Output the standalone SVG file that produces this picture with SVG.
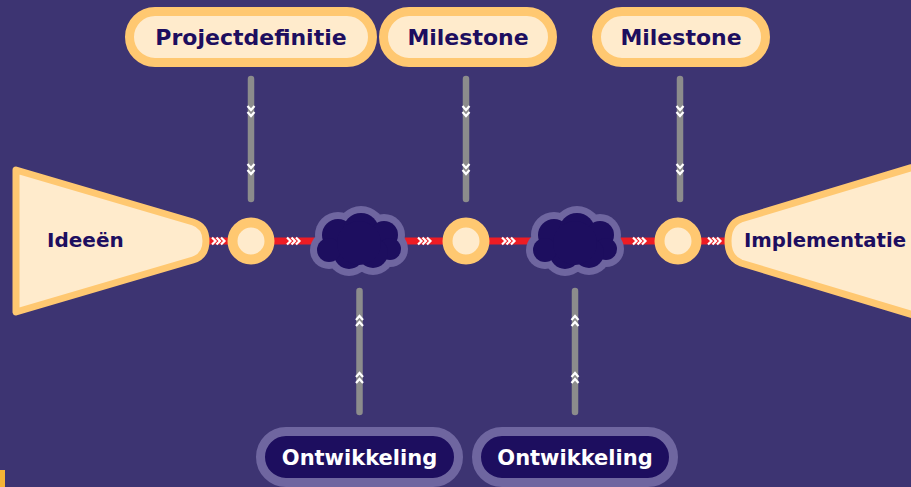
<svg xmlns="http://www.w3.org/2000/svg" width="911" height="487" viewBox="0 0 911 487">
<defs>
<style>
.bg{fill:#3d3472}
.warm{fill:#ffebcc;stroke:#ffc871;stroke-linejoin:round}
.pill{fill:#ffebcc;stroke:#ffc871;stroke-width:9}
.dpill{fill:#1d0e5f;stroke:#6f66a0;stroke-width:9}
.tdark{font-family:"DejaVu Sans",Verdana,sans-serif;font-weight:bold;fill:#1d0e5f}
.tlight{font-family:"DejaVu Sans",Verdana,sans-serif;font-weight:bold;fill:#ffffff}
.gray{stroke:#8c8c8c;stroke-width:6.5;stroke-linecap:round;fill:none}
.chev{stroke:#ffffff;stroke-width:2.2;fill:none}
.red{stroke:#ed1c24;stroke-width:7;fill:none}
.cout{fill:#6f66a0}
.cin{fill:#1d0e5f}
.mile{fill:#ffebcc;stroke:#ffc871;stroke-width:10}
</style>
<path id="c3" class="chev" d="M0,-3.5 L3.5,0 L0,3.5 M4.5,-3.5 L8,0 L4.5,3.5 M9,-3.5 L12.5,0 L9,3.5"/>
<path id="cd" class="chev" d="M-3.5,0 L0,4 L3.5,0 M-3.5,6 L0,10 L3.5,6"/>
<path id="cu" class="chev" d="M-3.5,4 L0,0 L3.5,4 M-3.5,10 L0,6 L3.5,10"/>
<g id="cloud">
<g class="cout">
<circle cx="-21" cy="-6" r="23"/><circle cx="2" cy="-10" r="25"/><circle cx="25" cy="-6" r="21"/>
<circle cx="31" cy="8" r="18"/><circle cx="14" cy="12" r="22"/><circle cx="-10" cy="13" r="22"/>
<circle cx="-30" cy="9" r="19"/><circle cx="0" cy="2" r="29"/>
</g>
<g class="cin">
<circle cx="-21" cy="-6" r="16"/><circle cx="2" cy="-10" r="18"/><circle cx="25" cy="-6" r="14"/>
<circle cx="31" cy="8" r="11"/><circle cx="14" cy="12" r="15"/><circle cx="-10" cy="13" r="15"/>
<circle cx="-30" cy="9" r="12"/><circle cx="0" cy="2" r="22"/>
</g>
</g>
</defs>
<rect class="bg" x="0" y="0" width="911" height="487"/>
<rect x="0" y="470" width="5" height="17" fill="#f5b335"/>

<g id="connectors">
<line class="red" x1="205" y1="241" x2="730" y2="241"/>
<use href="#c3" x="212" y="241"/>
<use href="#c3" x="287" y="241"/>
<use href="#c3" x="418" y="241"/>
<use href="#c3" x="502" y="241"/>
<use href="#c3" x="633" y="241"/>
<use href="#c3" x="708" y="241"/>
<line class="gray" x1="251" y1="79" x2="251" y2="199"/>
<line class="gray" x1="466" y1="79" x2="466" y2="199"/>
<line class="gray" x1="680" y1="79" x2="680" y2="199"/>
<use href="#cd" x="251" y="106"/><use href="#cd" x="251" y="164"/>
<use href="#cd" x="466" y="106"/><use href="#cd" x="466" y="164"/>
<use href="#cd" x="680" y="106"/><use href="#cd" x="680" y="164"/>
<line class="gray" x1="359.5" y1="291" x2="359.5" y2="412"/>
<line class="gray" x1="575" y1="291" x2="575" y2="412"/>
<use href="#cu" x="359.5" y="316"/><use href="#cu" x="359.5" y="373"/>
<use href="#cu" x="575" y="316"/><use href="#cu" x="575" y="373"/>
</g>

<g id="ideeen">
<path class="warm" stroke-width="7" d="M16,170 L193,222 Q206,226 206,241 Q206,256 193,260 L16,312 Z"/>
<text class="tdark" x="47" y="247" font-size="20">Ideeën</text>
</g>

<g id="implementatie">
<path class="warm" stroke-width="7" d="M940,159 L741,219 Q728,224 728,241 Q728,258 741,263 L940,323 Z"/>
<text class="tdark" x="744" y="247" font-size="19.7">Implementatie</text>
</g>

<g id="m1"><circle class="mile" cx="251" cy="241" r="18.5"/></g>
<g id="m2"><circle class="mile" cx="466" cy="241" r="18.5"/></g>
<g id="m3"><circle class="mile" cx="678" cy="241" r="18.5"/></g>

<g id="cloud1"><use href="#cloud" x="359" y="241"/></g>
<g id="cloud2"><use href="#cloud" x="575" y="241"/></g>

<g id="projectdefinitie">
<rect class="pill" x="129.5" y="11.5" width="243" height="51" rx="25.5"/>
<text class="tdark" x="251" y="45" font-size="22" text-anchor="middle">Projectdefinitie</text>
</g>
<g id="milestone1">
<rect class="pill" x="383.5" y="11.5" width="169" height="51" rx="25.5"/>
<text class="tdark" x="468" y="45" font-size="22" text-anchor="middle">Milestone</text>
</g>
<g id="milestone2">
<rect class="pill" x="596.5" y="11.5" width="169" height="51" rx="25.5"/>
<text class="tdark" x="681" y="45" font-size="22" text-anchor="middle">Milestone</text>
</g>
<g id="ontwikkeling1">
<rect class="dpill" x="260.5" y="431.5" width="198" height="51" rx="25.5"/>
<text class="tlight" x="359.5" y="465" font-size="21" text-anchor="middle">Ontwikkeling</text>
</g>
<g id="ontwikkeling2">
<rect class="dpill" x="476.5" y="431.5" width="197" height="51" rx="25.5"/>
<text class="tlight" x="575" y="465" font-size="21" text-anchor="middle">Ontwikkeling</text>
</g>
</svg>
